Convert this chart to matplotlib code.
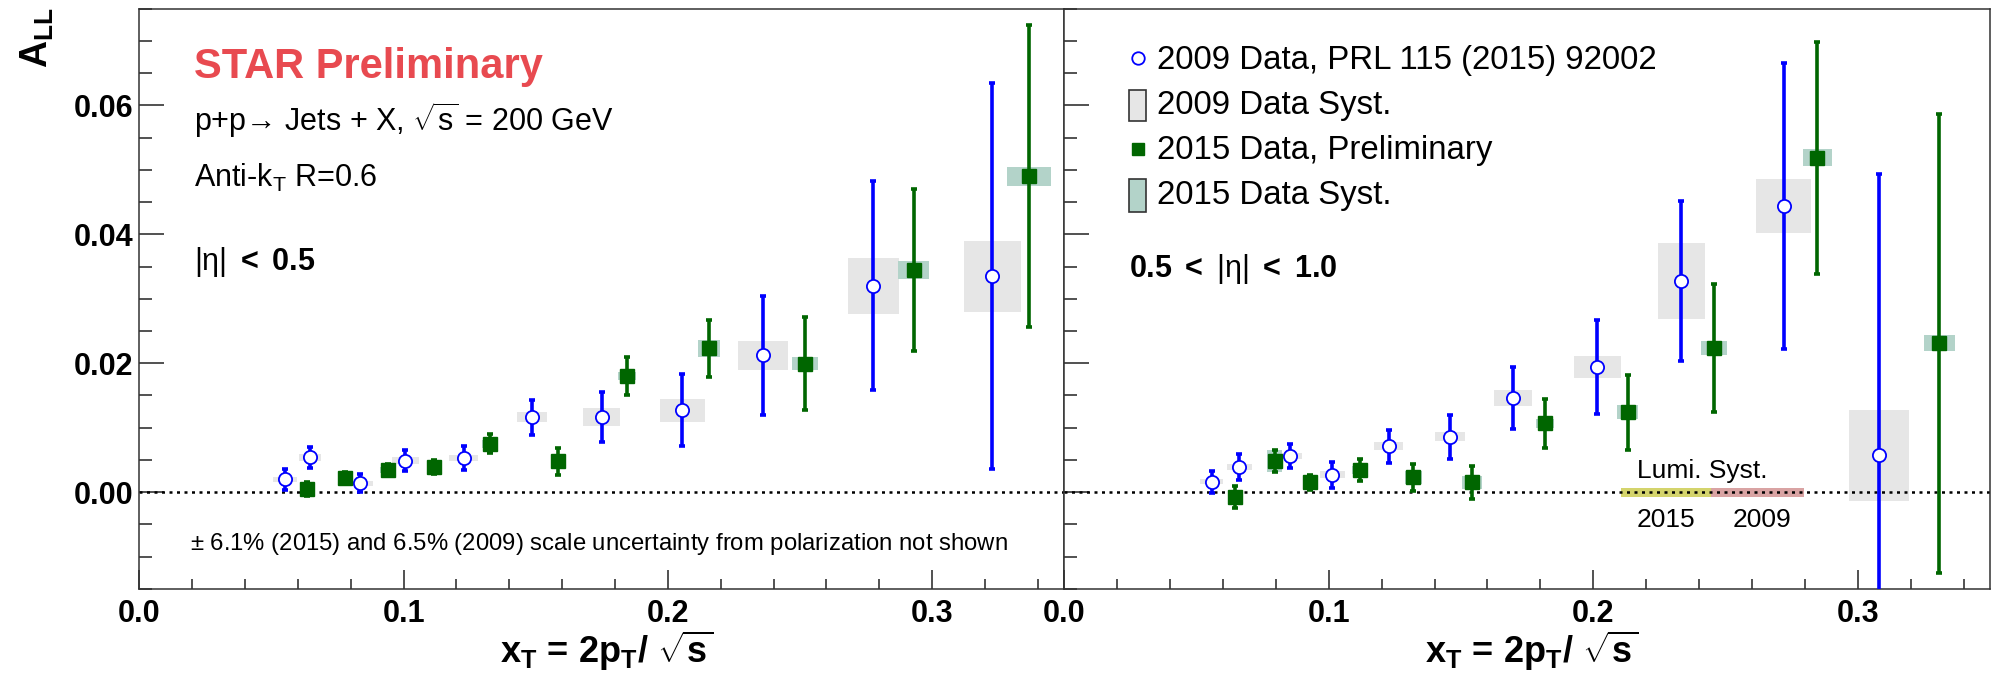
import numpy as np
import matplotlib
matplotlib.use("Agg")
import matplotlib.pyplot as plt
from matplotlib.patches import Rectangle
from matplotlib.ticker import MultipleLocator, FormatStrFormatter

plt.rcParams['font.family'] = ['Liberation Sans', 'DejaVu Sans']
plt.rcParams['mathtext.fontset'] = 'custom'
plt.rcParams['mathtext.rm'] = 'Liberation Sans'
plt.rcParams['mathtext.it'] = 'Liberation Sans:italic'
plt.rcParams['mathtext.bf'] = 'Liberation Sans:bold'
plt.rcParams['mathtext.default'] = 'regular'

# |eta| < 0.5 , 2009 data
x09_a = [0.0550, 0.0646, 0.0834, 0.1007, 0.1227, 0.1485, 0.1749, 0.2055, 0.2360, 0.2777, 0.3227]
y09_a = [0.0020, 0.0054, 0.0014, 0.0049, 0.0053, 0.0116, 0.0117, 0.0127, 0.0212, 0.0320, 0.0335]
stat09_a = [0.0016, 0.0016, 0.0014, 0.0016, 0.0019, 0.0027, 0.0039, 0.0056, 0.0093, 0.0162, 0.0299]
sysx09_a = [0.0045, 0.0043, 0.0049, 0.0050, 0.0055, 0.0056, 0.0070, 0.0085, 0.0093, 0.0097, 0.0108]
sysy09_a = [0.0004, 0.0005, 0.0004, 0.0005, 0.0005, 0.0008, 0.0014, 0.0018, 0.0023, 0.0043, 0.0055]
# |eta| < 0.5 , 2015 data
x15_a = [0.0635, 0.0780, 0.0940, 0.1116, 0.1327, 0.1586, 0.1847, 0.2156, 0.2518, 0.2930, 0.3366]
y15_a = [0.0005, 0.0022, 0.0034, 0.0039, 0.0075, 0.0048, 0.0180, 0.0223, 0.0199, 0.0345, 0.0490]
stat15_a = [0.0011, 0.0009, 0.0009, 0.0011, 0.0015, 0.0021, 0.0030, 0.0044, 0.0072, 0.0126, 0.0234]
sysx15_a = [0.0025, 0.0028, 0.0028, 0.0028, 0.0030, 0.0030, 0.0034, 0.0042, 0.0049, 0.0058, 0.0083]
sysy15_a = [0.0004, 0.0005, 0.0005, 0.0005, 0.0006, 0.0007, 0.0006, 0.0013, 0.0010, 0.0014, 0.0015]

# 0.5 < |eta| < 1.0 , 2009 data
x09_b = [0.0557, 0.0662, 0.0854, 0.1014, 0.1226, 0.1459, 0.1697, 0.2016, 0.2333, 0.2720, 0.3080]
y09_b = [0.0016, 0.0039, 0.0056, 0.0027, 0.0071, 0.0086, 0.0146, 0.0194, 0.0328, 0.0444, 0.0057]
stat09_b = [0.0017, 0.0020, 0.0019, 0.0020, 0.0026, 0.0034, 0.0048, 0.0073, 0.0124, 0.0222, 0.0437]
sysx09_b = [0.0045, 0.0048, 0.0044, 0.0049, 0.0054, 0.0057, 0.0071, 0.0087, 0.0090, 0.0104, 0.0112]
sysy09_b = [0.0004, 0.0005, 0.0005, 0.0005, 0.0006, 0.0007, 0.0012, 0.0017, 0.0059, 0.0042, 0.0071]
# 0.5 < |eta| < 1.0 , 2015 data
x15_b = [0.0645, 0.0795, 0.0930, 0.1119, 0.1320, 0.1540, 0.1819, 0.2130, 0.2456, 0.2847, 0.3308]
y15_b = [-0.0007, 0.0048, 0.0015, 0.0034, 0.0023, 0.0015, 0.0107, 0.0124, 0.0224, 0.0519, 0.0231]
stat15_b = [0.0017, 0.0017, 0.0011, 0.0017, 0.0021, 0.0026, 0.0038, 0.0058, 0.0099, 0.0180, 0.0356]
sysx15_b = [0.0025, 0.0030, 0.0028, 0.0030, 0.0032, 0.0038, 0.0034, 0.0040, 0.0048, 0.0054, 0.0059]
sysy15_b = [0.0004, 0.0017, 0.0005, 0.0006, 0.0010, 0.0010, 0.0007, 0.0011, 0.0011, 0.0013, 0.0012]

# luminosity systematic bands (x ranges)
lumi15 = [0.2103, 0.2446]
lumi09 = [0.2446, 0.2796]
lumi_half = 0.0007

blue = '#0000ff'
green = '#006600'
gray_sys = '#e6e6e6'
green_sys = '#b3d3c9'
star_red = '#e84a50'


def draw_panel(ax, x09, y09, s09, sx09, sy09, x15, y15, s15, sx15, sy15):
    # systematic boxes first
    for xi, yi, hx, hy in zip(x09, y09, sx09, sy09):
        ax.add_patch(Rectangle((xi - hx, yi - hy), 2 * hx, 2 * hy, facecolor=gray_sys, edgecolor='none', zorder=1))
    for xi, yi, hx, hy in zip(x15, y15, sx15, sy15):
        ax.add_patch(Rectangle((xi - hx, yi - hy), 2 * hx, 2 * hy, facecolor=green_sys, edgecolor='none', zorder=1))
    ax.axhline(0, color='black', lw=1.8, ls=(0, (1.2, 1.8)), zorder=2)
    ax.errorbar(x09, y09, yerr=s09, fmt='none', ecolor=blue, elinewidth=2.6, capsize=2.5, capthick=2.6, zorder=3)
    ax.errorbar(x15, y15, yerr=s15, fmt='none', ecolor=green, elinewidth=2.6, capsize=2.5, capthick=2.6, zorder=3)
    ax.plot(x09, y09, 'o', ms=9.5, mfc='white', mec=blue, mew=1.3, ls='none', zorder=4)
    ax.plot(x15, y15, 's', ms=9.5, mfc=green, mec=green, ls='none', zorder=4)

    ax.set_xlim(0, 0.35)
    ax.set_ylim(-0.015, 0.075)
    ax.xaxis.set_major_locator(MultipleLocator(0.1))
    ax.xaxis.set_minor_locator(MultipleLocator(0.02))
    ax.yaxis.set_major_locator(MultipleLocator(0.02))
    ax.yaxis.set_minor_locator(MultipleLocator(0.005))
    ax.xaxis.set_major_formatter(FormatStrFormatter('%.1f'))
    ax.yaxis.set_major_formatter(FormatStrFormatter('%.2f'))
    ax.tick_params(which='both', direction='in', top=False, right=False, width=1.1, color='#222222')
    ax.tick_params(axis='y', which='major', length=18, pad=4.5)
    ax.tick_params(axis='y', which='minor', length=9.4)
    ax.tick_params(axis='x', which='major', length=14, pad=7)
    ax.tick_params(axis='x', which='minor', length=7)
    for lab in ax.get_xticklabels() + ax.get_yticklabels():
        lab.set_fontsize(22)
        lab.set_fontweight('bold')
    for sp in ax.spines.values():
        sp.set_linewidth(1.1)
        sp.set_color('#333333')
    ax.text(0.505, -0.128, r'$\mathbf{x_T}$ = $\mathbf{2p_T/}$ $\mathbf{\sqrt{s}}$', transform=ax.transAxes,
            ha='center', va='baseline', fontsize=26, fontweight='bold')


fig = plt.figure(figsize=(19.96, 6.84), dpi=100)
ax1 = fig.add_axes([0.0698, 0.1392, 0.4634, 0.8481])
ax2 = fig.add_axes([0.5332, 0.1392, 0.4638, 0.8481])

draw_panel(ax1, x09_a, y09_a, stat09_a, sysx09_a, sysy09_a, x15_a, y15_a, stat15_a, sysx15_a, sysy15_a)
draw_panel(ax2, x09_b, y09_b, stat09_b, sysx09_b, sysy09_b, x15_b, y15_b, stat15_b, sysx15_b, sysy15_b)
ax2.set_yticklabels([])

# y axis title
fig.text(0.0185, 0.990, r'$\mathbf{A_{LL}}$', rotation=90, ha='center', va='top', fontsize=27)

# left panel texts
ax1.text(0.0207, 0.0643, 'STAR Preliminary', color=star_red, fontsize=30, fontweight='bold', va='baseline')
ax1.text(0.0207, 0.0561, 'p+p\u2192 Jets + X, $\\sqrt{s}$ = 200 GeV', fontsize=22, va='baseline')
ax1.text(0.0207, 0.0474, r'Anti-k$_T$ R=0.6', fontsize=22, va='baseline')
ax1.text(0.0207, 0.0344, '|\u03b7| $\\mathbf{<}$ $\\mathbf{0.5}$', fontsize=22, va='baseline')
ax1.text(0.0193, -0.0090, r'$\pm$ 6.1% (2015) and 6.5% (2009) scale uncertainty from polarization not shown',
         fontsize=17.2, va='baseline')

# right panel legend, drawn by hand
ax2.plot([0.0277], [0.0673], 'o', ms=9, mfc='white', mec=blue, mew=1.3, clip_on=False)
ax2.add_patch(Rectangle((0.0246, 0.0576), 0.0062, 0.0048, facecolor=gray_sys, edgecolor='#333333', lw=1.2))
ax2.plot([0.0277], [0.0532], 's', ms=9, mfc=green, mec=green, clip_on=False)
ax2.add_patch(Rectangle((0.0246, 0.0434), 0.0062, 0.0051, facecolor=green_sys, edgecolor='#333333', lw=1.2))
leg_labels = ['2009 Data, PRL 115 (2015) 92002', '2009 Data Syst.', '2015 Data, Preliminary', '2015 Data Syst.']
leg_y = [0.0656, 0.0586, 0.0517, 0.0447]
for lab, yy in zip(leg_labels, leg_y):
    ax2.text(0.0351, yy, lab, fontsize=23.8, va='baseline')
ax2.text(0.0246, 0.0333, '$\\mathbf{0.5}$ $\\mathbf{<}$ |\u03b7| $\\mathbf{<}$ $\\mathbf{1.0}$', fontsize=22, va='baseline')

# luminosity systematics
ax2.add_patch(Rectangle((lumi15[0], -lumi_half), lumi15[1] - lumi15[0], 2 * lumi_half,
                        facecolor='#d4d46c', edgecolor='none', zorder=1.5))
ax2.add_patch(Rectangle((lumi09[0], -lumi_half), lumi09[1] - lumi09[0], 2 * lumi_half,
                        facecolor='#d9a3a3', edgecolor='none', zorder=1.5))
ax2.text(0.2166, 0.00224, 'Lumi. Syst.', fontsize=19, va='baseline')
ax2.text(0.2275, -0.0054, '2015', fontsize=19, va='baseline', ha='center')
ax2.text(0.2637, -0.0054, '2009', fontsize=19, va='baseline', ha='center')

fig.savefig('out.png', dpi=100)
